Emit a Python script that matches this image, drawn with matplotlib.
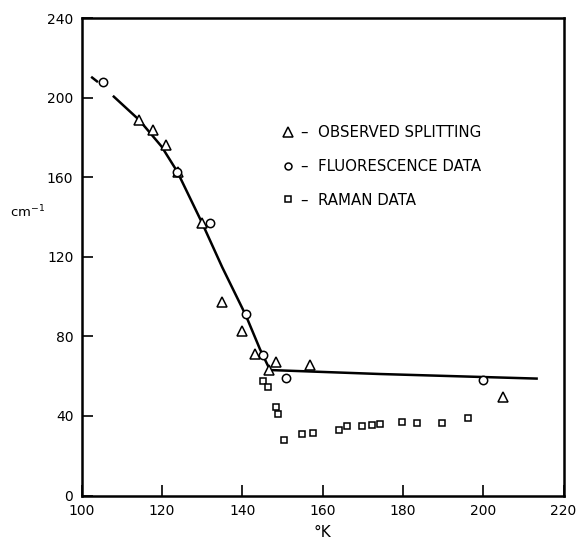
import numpy as np
import matplotlib.pyplot as plt
from matplotlib.lines import Line2D

# temperature (K) / splitting (cm-1)
obs_T = [114.3, 117.7, 121.0, 124.0, 130.0, 135.0, 139.9, 143.2, 146.7, 148.4, 156.9, 205.0]
obs_cm = [188.9, 183.9, 176.3, 162.5, 136.9, 97.2, 82.7, 71.0, 63.1, 67.0, 65.6, 49.7]

fluo_T = [105.4, 123.8, 132.0, 140.9, 145.2, 150.9, 200.0]
fluo_cm = [207.8, 162.9, 136.9, 91.3, 70.7, 59.1, 58.1]

raman_T = [145.2, 146.5, 148.4, 149.0, 150.4, 154.8, 157.5, 164.0, 166.2, 169.9,
           172.2, 174.3, 179.9, 183.4, 189.7, 196.1]
raman_cm = [57.7, 54.4, 44.7, 40.8, 27.9, 30.8, 31.3, 32.9, 35.0, 34.8,
            35.5, 36.0, 36.8, 36.5, 36.3, 39.1]

# hand drawn curve (with a gap around the first circle)
curve_T = [102.6, 103.8, np.nan, 108.0, 114.3, 119.9, 123.8, 130.0, 135.0, 140.9, 144.4, 146.9, 174.3, 213.3]
curve_cm = [210.2, 208.3, np.nan, 200.6, 188.9, 175.5, 162.9, 137.0, 114.8, 90.5, 73.6, 63.1, 61.1, 58.8]

xticks = [100, 120, 140, 160, 180, 200, 220]
yticks = [0, 40, 80, 120, 160, 200, 240]

plt.rcParams['font.family'] = 'DejaVu Sans'

fig = plt.figure(figsize=(5.79, 5.42), dpi=100)
ax = fig.add_axes([81.7/579, 46.5/542, 481.8/579, 477.2/542])

ax.plot(curve_T, curve_cm, '-', color='black', lw=1.8, zorder=1)
ax.plot(obs_T, obs_cm, '^', ms=7, mfc='white', mec='black', mew=1.1, ls='none', zorder=3)
ax.plot(fluo_T, fluo_cm, 'o', ms=6, mfc='white', mec='black', mew=1.1, ls='none', zorder=3)
ax.plot(raman_T, raman_cm, 's', ms=5, mfc='white', mec='black', mew=1.1, ls='none', zorder=3)

ax.set_xlim(100, 220)
ax.set_ylim(0, 240)
ax.set_xticks(xticks)
ax.set_yticks(yticks)
ax.tick_params(direction='in', length=8, width=1.2, labelsize=10, pad=6,
               top=False, right=False)
for s in ax.spines.values():
    s.set_linewidth(1.8)

ax.set_xlabel('°K', fontsize=11, labelpad=5)
fig.text(0.018, 1 - 212/542, 'cm$^{-1}$', fontsize=9.5, va='center', ha='left')

handles = [
    Line2D([], [], marker='^', ms=7, mfc='white', mec='black', mew=1.1, ls='none'),
    Line2D([], [], marker='o', ms=5, mfc='white', mec='black', mew=1.1, ls='none'),
    Line2D([], [], marker='s', ms=4.5, mfc='white', mec='black', mew=1.1, ls='none'),
]
labels = ['–  OBSERVED SPLITTING', '–  FLUORESCENCE DATA', '–  RAMAN DATA']
ax.legend(handles, labels, loc='upper left', bbox_to_anchor=(0.40, 0.792),
          frameon=False, fontsize=10.8, handlelength=0.8, handletextpad=0.45,
          labelspacing=1.25, borderpad=0)

fig.savefig('out.png', dpi=100)
